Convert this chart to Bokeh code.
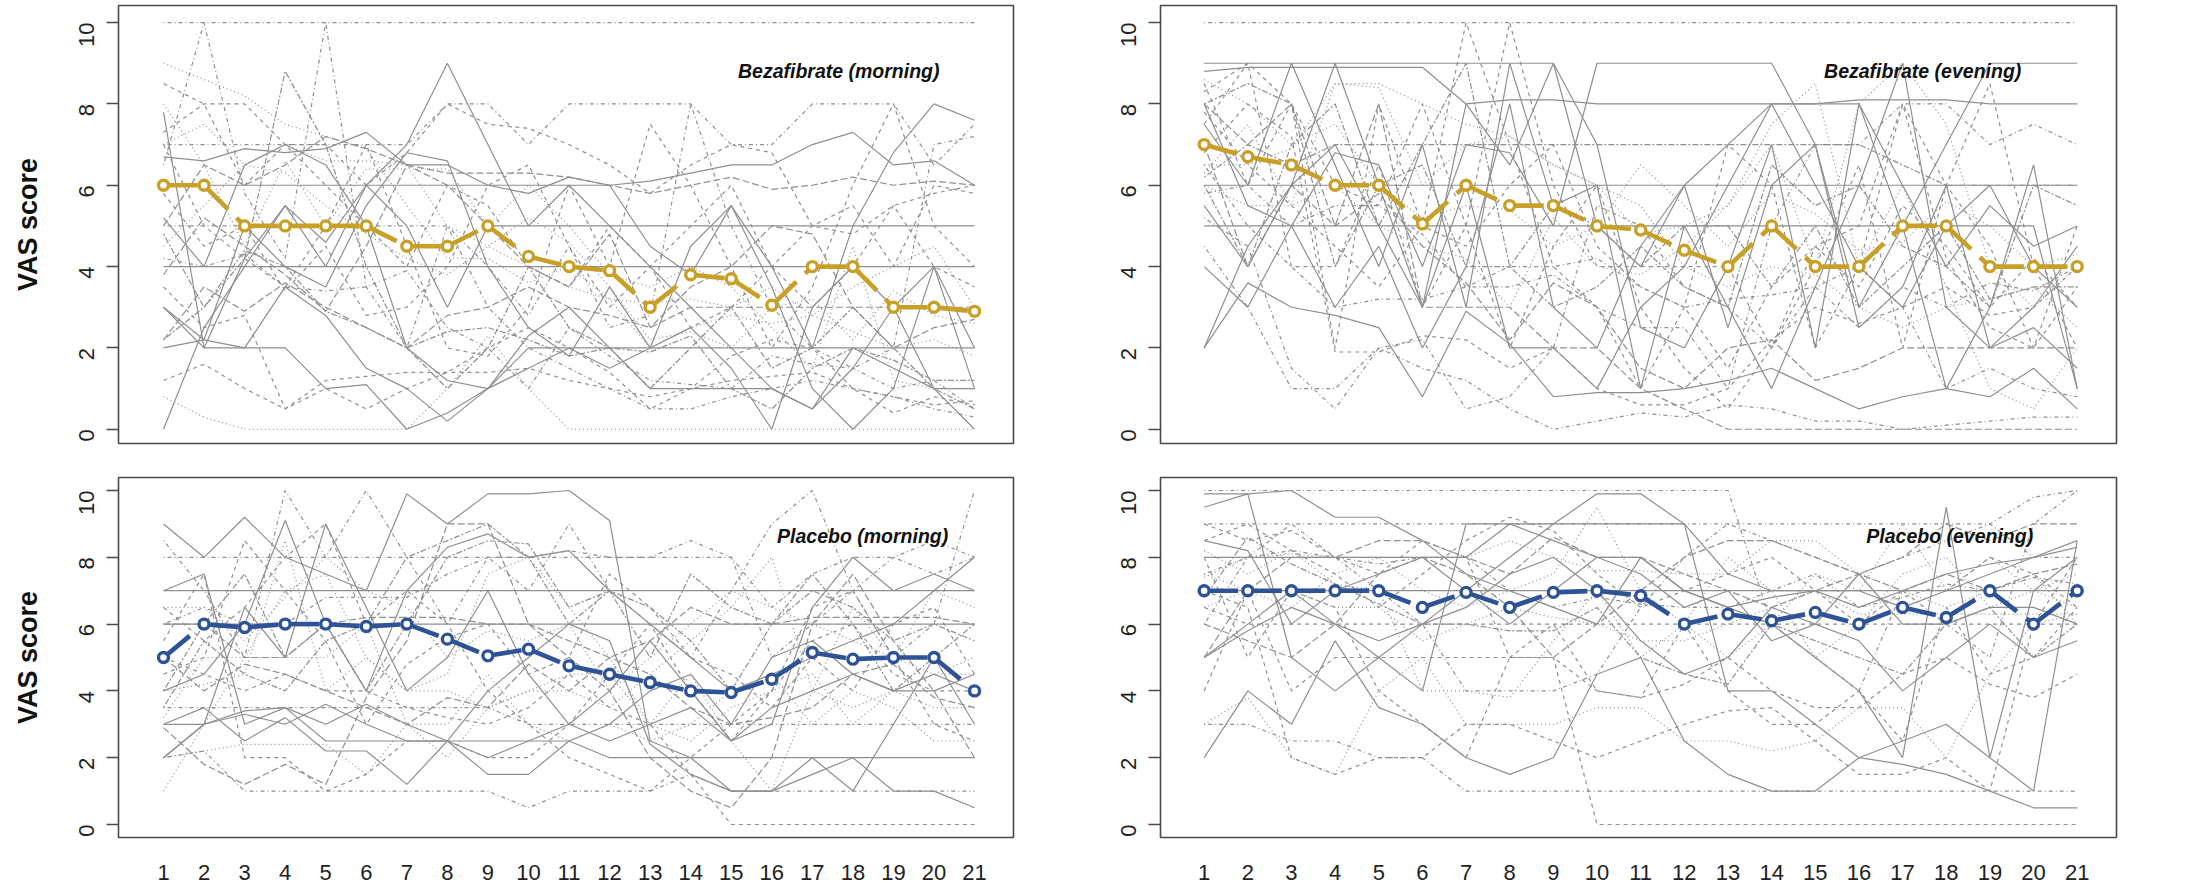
import math
from bokeh.plotting import figure
from bokeh.layouts import column, row
from bokeh.models import Range1d, FixedTicker, Label
from bokeh.embed import file_html
from bokeh.resources import INLINE

# ---------------- data ----------------
days = [1, 2, 3, 4, 5, 6, 7, 8, 9, 10, 11, 12, 13, 14, 15, 16, 17, 18, 19, 20, 21]
y_ticks = [0, 2, 4, 6, 8, 10]

median_bz_morning = [6.0, 6.0, 5.0, 5.0, 5.0, 5.0, 4.5, 4.5, 5.0, 4.25, 4.0, 3.9, 3.0, 3.8, 3.7, 3.05, 4.0, 4.0, 3.0, 3.0, 2.9]
median_bz_evening = [7.0, 6.7, 6.5, 6.0, 6.0, 5.05, 6.0, 5.5, 5.5, 5.0, 4.9, 4.4, 4.0, 5.0, 4.0, 4.0, 5.0, 5.0, 4.0, 4.0, 4.0]
median_pl_morning = [5.0, 6.0, 5.9, 6.0, 6.0, 5.93, 6.0, 5.55, 5.05, 5.25, 4.75, 4.5, 4.25, 4.0, 3.95, 4.35, 5.15, 4.95, 5.0, 5.0, 4.0]
median_pl_evening = [7.0, 7.0, 7.0, 7.0, 7.0, 6.5, 6.95, 6.5, 6.95, 7.0, 6.85, 6.0, 6.3, 6.1, 6.35, 6.0, 6.5, 6.2, 7.0, 6.0, 7.0]

bz_morning_styles = ["dotdash", "solid", "solid", "dashed", "solid", "dotted", "dashed", "dotdash", "solid",
                     "dotted", "longdash", "solid", "dashed", "twodash", "dotted", "solid", "dotdash", "dashed",
                     "solid", "dotted", "dashed", "solid", "longdash", "dotdash", "twodash",
                     "dashed", "dotted", "solid", "dotdash", "longdash"]
bz_morning_patients = [
    [10, 10, 10, 10, 10, 10, 10, 10, 10, 10, 10, 10, 10, 10, 10, 10, 10, 10, 10, 10, 10],
    [4, 4, 4, 4, 4, 4, 4, 4, 4, 4, 4, 4, 4, 4, 4, 4, 4, 4, 4, 4, 4],
    [7.8, 2, 2, 2, 1, 1.1, 0, 0.4, 1, 1.5, 2, 2, 2, 2, 2, 2, 2, 2, 2, 2, 2],
    [1.2, 1.6, 1.0, 0.5, 1.2, 1.3, 1.4, 1.4, 1.4, 1.5, 1.2, 1.0, 0.8, 1.0, 1.2, 1.3, 1.4, 1.0, 0.8, 0.6, 0.7],
    [6.7, 6.6, 6.9, 6.8, 6.9, 7.3, 6.5, 6.5, 6.0, 5.8, 6.2, 6.0, 6.1, 6.3, 6.5, 6.5, 7.0, 7.3, 6.5, 6.6, 6.0],
    [9.0, 8.6, 8.2, 7.5, 7.2, 6.9, 5.5, 4.2, 4.2, 3.6, 4.0, 3.2, 2.0, 2.5, 2.8, 2.6, 2.8, 2.4, 2.0, 2.2, 1.8],
    [8.5, 8.0, 6.0, 7.0, 7.0, 6.0, 6.8, 8.0, 7.5, 7.4, 7.0, 6.5, 5.8, 6.5, 7.0, 6.8, 5.0, 4.8, 5.5, 5.8, 6.0],
    [5, 5, 5, 5, 5, 5, 5, 5, 3.0, 2.0, 1.5, 1.0, 0.5, 0.5, 0.8, 1.0, 1.2, 1.0, 0.8, 0.5, 0.3],
    [3.0, 2.0, 4.2, 5.5, 4.6, 6.0, 5.0, 3.0, 5, 5, 5, 5, 5, 5, 5, 5, 5, 5, 5, 5, 5],
    [0.8, 0.3, 0, 0, 0, 0, 0, 1.0, 2.3, 1.0, 0, 0, 0, 0, 0, 0, 0, 0, 0, 0, 0],
    [2.2, 3.5, 2.9, 3.6, 3.0, 2.5, 2.0, 2.8, 3.0, 3.5, 3.0, 2.8, 2.5, 3.0, 3.0, 3.0, 3.0, 3.0, 3.0, 3.0, 3.0],
    [0, 2.5, 4.0, 5.5, 4.0, 6.0, 7.0, 9.0, 7.0, 5.0, 6.0, 5.0, 4.0, 3.0, 2.0, 1.0, 0.5, 1.5, 3.0, 4.0, 2.0],
    [7.0, 5.0, 4.2, 3.5, 5.0, 7.0, 4.5, 2.0, 1.8, 3.0, 6.0, 4.0, 7.5, 6.0, 4.0, 2.0, 3.5, 6.0, 8.0, 5.0, 4.0],
    [4.8, 3.0, 4.2, 8.8, 7.0, 4.0, 2.0, 1.0, 2.0, 4.0, 2.5, 2.0, 1.0, 2.0, 3.0, 1.5, 2.0, 3.0, 2.0, 1.0, 0.5],
    [8.0, 6.5, 4.5, 6.6, 5.0, 6.4, 6.4, 6.4, 5.0, 6.0, 5.0, 3.8, 3.5, 4.0, 3.5, 2.5, 1.5, 4.5, 1.2, 1.0, 1.0],
    [6, 6, 6, 6, 6, 6, 6, 6, 6, 6, 6, 6, 4.5, 3.8, 5.5, 4.0, 2.0, 5.0, 6.8, 8.0, 7.6],
    [7, 7, 7, 7, 7, 7, 7, 8, 8, 7, 8, 8, 8, 8, 7, 7, 8, 8, 8, 6.5, 7.5],
    [3.5, 2.5, 2.8, 0.5, 1.0, 0.5, 1.0, 1.4, 2.0, 2.5, 2.0, 1.4, 0.5, 1.0, 1.8, 2.2, 2.0, 1.0, 0.4, 0.8, 0.6],
    [5.2, 4.0, 6.5, 7.0, 6.5, 5.0, 2.0, 1.2, 1.0, 2.0, 2.0, 1.5, 2.0, 2.5, 1.5, 0, 3.0, 4.0, 3.0, 1.0, 0.0],
    [4.5, 5.5, 6.5, 6.3, 5.5, 4.8, 4.2, 3.8, 4.5, 4.0, 3.5, 3.2, 3.1, 3.2, 3.0, 3.5, 2.8, 3.5, 4.0, 4.5, 3.0],
    [7.3, 8.0, 8.0, 7.0, 6.0, 5.0, 4.0, 6.0, 5.5, 4.0, 3.5, 5.0, 4.0, 2.5, 3.0, 4.0, 5.0, 5.5, 4.0, 6.0, 5.8],
    [3.0, 2.2, 2.0, 3.5, 2.8, 1.5, 1.0, 0.2, 1.0, 2.3, 3.0, 2.0, 1.0, 1.0, 1.0, 1.0, 0.5, 2.0, 1.5, 1.0, 1.0],
    [5.0, 6.5, 6.0, 6.5, 7.2, 6.9, 6.5, 6.3, 6.3, 6.3, 6.2, 6.0, 5.8, 6.0, 6.2, 5.9, 6.0, 6.2, 6.0, 6.1, 6.0],
    [6.5, 10, 5.8, 4.2, 10, 3.5, 2.0, 5.0, 4.0, 2.8, 4.5, 2.5, 2.8, 8.0, 5.0, 3.0, 2.0, 1.5, 2.0, 7.0, 7.2],
    [2.2, 3.0, 4.4, 4.0, 2.9, 2.5, 2.0, 2.4, 2.5, 2.2, 1.8, 2.0, 1.9, 2.3, 1.0, 0.5, 1.5, 2.0, 1.7, 1.2, 1.2],
    [5.8, 4.5, 5.0, 3.4, 4.5, 2.8, 3.0, 4.0, 6.0, 6.5, 4.5, 3.0, 4.0, 5.0, 6.0, 4.0, 3.0, 4.0, 5.5, 4.0, 3.5],
    [7.0, 7.5, 6.5, 7.0, 6.6, 6.6, 6.5, 5.0, 4.5, 5.2, 4.6, 3.5, 2.2, 2.4, 2.0, 3.0, 3.2, 2.2, 3.4, 2.8, 2.6],
    [2.0, 2.2, 5.0, 4.0, 3.5, 5.5, 6.8, 6.6, 4.0, 2.5, 1.8, 3.5, 2.0, 4.5, 5.5, 3.5, 1.0, 0.0, 1.0, 4.0, 1.0],
    [4.2, 4.0, 4.3, 3.5, 3.4, 3.5, 3.9, 2.5, 2.0, 1.0, 2.5, 1.8, 1.2, 1.1, 1.0, 1.8, 1.6, 1.5, 1.0, 1.2, 0.5],
    [3.8, 5.2, 4.5, 3.8, 2.9, 4.5, 6.5, 6.0, 5.0, 4.0, 3.5, 4.8, 2.5, 3.5, 4.0, 5.0, 4.8, 3.0, 2.0, 2.5, 2.7],
]

bz_evening_styles = ["dotdash", "solid", "solid", "solid", "solid", "solid", "dashed", "dotted", "longdash",
                     "dotdash", "twodash", "solid", "dashed", "dotted", "solid", "dashed", "dotdash", "longdash",
                     "solid", "twodash", "dotted", "dashed", "solid", "dotdash",
                     "dashed", "dotted", "solid", "twodash", "dotdash"]
bz_evening_patients = [
    [10, 10, 10, 10, 10, 10, 10, 10, 10, 10, 10, 10, 10, 10, 10, 10, 10, 10, 10, 10, 10],
    [9, 9, 9, 9, 9, 9, 9, 9, 9, 5, 4, 6, 7, 8, 6, 4, 3, 5, 6, 4, 3],
    [8.8, 8.9, 8.9, 8.9, 8.9, 8.9, 8.0, 8.1, 8.1, 8, 8, 8, 8, 8, 8, 8.1, 8.1, 8.1, 8, 8, 8],
    [6, 6, 6, 6, 6, 6, 6, 6, 6, 6, 6, 6, 6, 6, 6, 6, 6, 6, 6, 6, 6],
    [5, 5, 5, 5, 5, 5, 5, 5, 5, 5, 5, 5, 5, 5, 5, 5, 5, 5, 5, 5, 1.0],
    [2.0, 3.6, 3.0, 2.8, 2.5, 0.8, 2.9, 2.1, 0.8, 0.9, 0.9, 1.0, 1.2, 1.5, 1.0, 0.5, 0.8, 1.0, 0.8, 1.5, 0.5],
    [8.5, 6.0, 8.0, 2.0, 8.0, 5.0, 10, 7.0, 4.0, 3.0, 1.0, 3.0, 7.0, 6.0, 2.0, 4.0, 8.0, 6.0, 4.5, 2.0, 5.0],
    [6.5, 6.5, 6.9, 8.5, 8.5, 8.0, 7.5, 7.2, 6.5, 6.0, 5.5, 4.0, 3.5, 4.0, 3.8, 3.0, 2.5, 3.0, 3.2, 3.5, 2.5],
    [8.0, 7.0, 8.0, 5.0, 8.0, 3.0, 3.0, 3.0, 2.0, 2.0, 1.0, 0.5, 0, 0, 0, 0, 0, 0, 0, 0, 0],
    [6.5, 5.0, 4.0, 3.0, 3.2, 3.2, 3.5, 3.5, 3.8, 3.0, 2.5, 2.5, 1.0, 5.0, 7.0, 7.0, 8.0, 8.0, 7.0, 7.5, 7.0],
    [6.2, 7.0, 6.5, 7.0, 7.0, 7.0, 7.0, 7.0, 7.0, 7.0, 7.0, 7.0, 7.0, 7.0, 7.0, 7.0, 6.5, 6.0, 6.0, 6.0, 6.0],
    [8.0, 5.5, 5.0, 6.8, 6.5, 4.0, 7.0, 6.8, 5.0, 9.0, 9.0, 9.0, 9.0, 9.0, 7.0, 3.0, 5.0, 7.0, 9.0, 9.0, 9.0],
    [7.5, 9.0, 8.0, 6.0, 5.5, 8.0, 5.0, 2.0, 4.5, 6.0, 3.0, 1.5, 0.5, 2.0, 4.0, 6.5, 2.0, 6.0, 8.5, 4.0, 2.0],
    [6.0, 5.5, 5.5, 8.5, 8.4, 6.0, 7.0, 7.2, 6.5, 6.0, 4.8, 5.0, 5.5, 7.0, 4.0, 8.0, 9.0, 7.5, 4.0, 3.0, 4.0],
    [5.5, 4.0, 6.0, 9.0, 6.0, 3.0, 8.0, 6.5, 9.0, 7.0, 2.5, 2.0, 4.0, 7.0, 2.0, 8.0, 5.0, 1.0, 3.0, 6.5, 1.0],
    [8.3, 9.0, 4.0, 4.0, 6.5, 3.0, 5.0, 10, 6.0, 4.0, 4.0, 4.0, 4.0, 2.0, 4.5, 5.0, 8.0, 4.2, 2.5, 2.0, 3.5],
    [5.2, 4.5, 1.5, 0.5, 2.0, 2.2, 0.5, 0.8, 2.0, 5.5, 5.0, 3.5, 3.0, 2.0, 3.5, 4.0, 3.0, 1.0, 1.5, 1.0, 0.8],
    [7.0, 4.0, 6.0, 5.0, 5.8, 4.5, 3.6, 2.2, 3.6, 3.0, 1.5, 1.0, 2.0, 2.2, 1.2, 1.5, 2.0, 2.0, 2.0, 2.0, 2.0],
    [2.0, 4.5, 6.0, 7.0, 5.0, 3.0, 6.0, 2.0, 2.0, 1.0, 3.0, 4.0, 6.0, 8.0, 8.0, 8.0, 6.0, 4.0, 5.5, 4.5, 5.0],
    [8.0, 8.5, 8.0, 4.0, 6.0, 6.5, 4.0, 4.0, 5.5, 5.0, 4.0, 5.0, 5.0, 3.5, 5.0, 3.0, 4.0, 5.0, 3.2, 3.5, 3.5],
    [6.3, 7.5, 5.5, 6.0, 5.0, 4.5, 4.2, 3.0, 5.2, 4.0, 3.8, 4.5, 5.5, 7.5, 8.5, 4.0, 6.0, 3.5, 1.0, 0.5, 2.0],
    [6.8, 8.0, 7.2, 1.9, 1.9, 2.3, 2.2, 1.5, 2.0, 1.0, 0.6, 0.6, 1.0, 2.2, 3.0, 2.6, 3.0, 3.5, 2.8, 3.0, 4.0],
    [7.5, 6.0, 9.0, 6.5, 4.0, 7.0, 3.0, 9.0, 5.5, 6.0, 1.0, 5.0, 3.0, 1.0, 3.5, 6.0, 9.0, 3.0, 2.0, 3.0, 4.5],
    [4.5, 3.0, 1.0, 1.0, 2.0, 1.5, 1.2, 0.5, 0.0, 0.2, 0.4, 0.3, 0.6, 0.5, 0.2, 0.2, 0.0, 0.1, 0.2, 0.3, 0.3],
    [7.8, 6.5, 5.5, 4.5, 3.5, 5.0, 4.5, 6.0, 7.0, 4.5, 3.5, 3.0, 1.5, 3.5, 4.5, 3.5, 5.5, 4.5, 3.0, 4.2, 3.0],
    [8.6, 8.0, 7.0, 7.5, 6.0, 5.2, 5.5, 5.4, 4.5, 5.0, 6.5, 5.5, 4.5, 5.8, 5.3, 4.4, 4.6, 5.6, 5.0, 4.0, 4.3],
    [4.0, 3.0, 5.0, 3.0, 4.5, 2.0, 4.0, 8.0, 3.0, 2.0, 4.5, 6.0, 2.5, 6.0, 7.0, 2.5, 3.5, 6.0, 2.0, 2.5, 1.5],
    [6.0, 4.0, 7.0, 8.0, 5.0, 7.0, 9.0, 4.0, 3.0, 3.5, 4.5, 3.5, 3.0, 6.5, 5.5, 6.0, 4.5, 4.0, 3.0, 6.0, 5.5],
    [5.8, 6.0, 5.0, 5.5, 5.5, 4.8, 3.5, 4.0, 4.0, 4.2, 3.5, 3.0, 3.2, 3.3, 3.5, 2.5, 3.5, 3.0, 3.6, 3.4, 4.0],
]

pl_morning_styles = ["dotdash", "solid", "solid", "solid", "dotdash", "solid", "dotdash", "solid", "solid",
                     "dashed", "dotted", "longdash", "dotted", "dashed", "solid", "twodash", "dotted", "solid",
                     "dotdash", "dashed", "dotdash", "longdash", "dotted",
                     "dashed", "dotted", "solid", "longdash", "twodash"]
pl_morning_patients = [
    [8, 8, 8, 8, 8, 8, 8, 8, 8, 8, 8, 8, 8, 8, 8, 6.5, 7.5, 8, 8, 7.5, 8],
    [7, 7, 7, 7, 7, 7, 7, 7, 7, 7, 7, 7, 7, 7, 7, 7, 7, 7, 7, 7, 7],
    [6, 6, 6, 6, 6, 6, 6, 6, 6, 6, 6, 6, 6, 6, 6, 6, 6, 6, 6, 6, 6],
    [3, 3, 3.3, 3.0, 3.6, 3.0, 2.5, 2.5, 2.0, 2.5, 3.0, 2.5, 3.0, 3.5, 2.5, 3.5, 4.0, 4.5, 4.0, 4.5, 4.0],
    [3.5, 3.5, 3.5, 3.5, 3.5, 3.5, 3.5, 3.5, 3.5, 3.0, 3.0, 3.0, 3.0, 3.0, 3.0, 3.0, 3.0, 3.0, 3.0, 3.0, 3.0],
    [2.0, 3.0, 3.4, 3.5, 2.5, 2.5, 2.5, 2.5, 2.5, 2.5, 2.5, 2.0, 2.0, 2.0, 2.0, 2.0, 2.0, 2.0, 2.0, 2.0, 2.0],
    [2.0, 2.2, 1.0, 1.0, 1.0, 1.0, 1.0, 1.0, 1.0, 0.5, 1.0, 1.0, 1.0, 1.5, 1.0, 1.0, 1.0, 1.0, 1.0, 1.0, 1.0],
    [9.0, 8.0, 9.2, 8.0, 7.5, 7.0, 9.9, 9.0, 9.9, 9.9, 10, 9.1, 2.5, 2.0, 1.0, 1.0, 1.5, 2.0, 1.0, 1.0, 0.5],
    [7.0, 7.5, 3.0, 3.5, 3.0, 3.6, 3.0, 2.5, 1.5, 1.5, 2.5, 3.0, 4.0, 4.5, 3.0, 5.0, 5.5, 4.5, 4.0, 4.0, 4.5],
    [5.5, 7.5, 2.0, 2.0, 1.0, 1.5, 2.5, 2.5, 2.0, 2.0, 3.0, 4.5, 6.0, 4.0, 2.5, 4.0, 5.5, 6.0, 4.5, 4.0, 4.0],
    [4.0, 4.2, 4.5, 8.5, 4.0, 5.0, 4.0, 4.0, 3.5, 4.0, 4.5, 4.5, 3.0, 2.5, 3.5, 4.0, 4.5, 3.0, 4.0, 4.5, 4.5],
    [6.0, 6.0, 5.0, 5.0, 6.0, 6.2, 6.2, 6.2, 6.0, 6.0, 5.5, 5.0, 5.5, 6.5, 6.0, 6.0, 6.2, 6.2, 6.2, 6.2, 6.0],
    [1.0, 3.0, 5.0, 7.0, 7.5, 5.0, 4.0, 4.5, 7.5, 8.0, 6.5, 5.0, 3.0, 4.5, 2.5, 1.0, 4.0, 6.5, 5.0, 7.0, 6.5],
    [6.5, 5.5, 6.5, 8.0, 9.0, 6.0, 7.0, 6.0, 4.0, 3.0, 2.0, 1.5, 1.0, 2.0, 3.0, 4.0, 6.5, 7.0, 5.0, 3.0, 2.5],
    [4.0, 4.5, 6.0, 9.1, 6.0, 4.0, 7.0, 8.3, 8.7, 8.0, 8.2, 7.0, 6.0, 5.0, 4.0, 4.5, 5.0, 5.5, 6.0, 7.0, 8.0],
    [4.0, 6.0, 7.5, 5.0, 6.0, 4.0, 6.0, 8.0, 8.5, 8.4, 6.5, 7.0, 5.0, 7.5, 6.5, 6.0, 7.0, 6.5, 5.5, 6.0, 5.5],
    [2.0, 2.2, 2.4, 2.4, 2.4, 1.5, 3.0, 3.0, 4.5, 3.0, 2.5, 3.0, 2.5, 3.0, 4.0, 4.5, 3.0, 4.0, 3.5, 2.5, 2.5],
    [3.0, 3.5, 2.5, 3.2, 2.2, 2.2, 1.2, 2.5, 4.0, 5.0, 6.0, 5.5, 2.4, 1.5, 1.0, 1.0, 2.0, 1.0, 3.0, 5.0, 3.0],
    [6.0, 6.5, 6.0, 6.0, 6.8, 6.8, 6.8, 7.5, 8.0, 8.0, 8.2, 8.0, 8.0, 8.5, 8.0, 5.0, 6.0, 7.0, 8.0, 8.5, 8.0],
    [5.0, 4.5, 4.0, 4.5, 4.0, 4.0, 3.5, 3.2, 3.0, 3.5, 4.5, 3.5, 3.0, 1.5, 0, 0, 0, 0, 0, 0, 0],
    [8.5, 7.0, 5.0, 10, 8.0, 10, 8.0, 6.0, 8.0, 7.0, 9.0, 7.0, 6.0, 5.0, 7.0, 9.0, 10, 7.0, 5.0, 6.0, 10],
    [2.9, 1.8, 1.2, 1.8, 1.2, 3.8, 5.5, 9.0, 9.0, 6.0, 5.0, 4.0, 2.0, 1.0, 0.5, 2.0, 6.0, 7.5, 5.5, 4.0, 2.0],
    [3.2, 5.0, 5.0, 5.0, 5.0, 6.0, 3.0, 2.0, 3.5, 4.0, 4.0, 3.5, 4.5, 5.5, 6.5, 8.0, 4.0, 3.5, 4.0, 3.5, 3.5],
    [4.5, 5.0, 8.5, 7.0, 5.5, 3.0, 4.8, 5.6, 6.0, 4.5, 5.0, 7.5, 6.5, 5.0, 4.5, 3.5, 5.0, 4.0, 6.0, 6.5, 4.5],
    [6.5, 6.5, 5.5, 6.8, 8.0, 7.0, 6.5, 5.0, 5.8, 5.5, 6.0, 4.0, 5.0, 6.0, 7.0, 6.5, 6.0, 5.5, 5.0, 4.5, 5.0],
    [2.0, 3.0, 6.5, 5.0, 9.0, 6.5, 4.0, 5.0, 7.0, 4.5, 3.0, 4.0, 5.5, 4.0, 2.5, 3.0, 6.5, 8.0, 7.0, 7.5, 7.0],
    [5.0, 4.0, 4.8, 4.5, 4.0, 3.5, 3.0, 3.8, 3.5, 4.8, 4.0, 5.0, 4.5, 3.5, 3.0, 3.2, 3.5, 4.5, 4.8, 3.8, 3.5],
    [3.5, 5.5, 4.5, 4.0, 5.5, 6.0, 8.0, 8.5, 9.0, 8.0, 6.0, 7.0, 6.5, 5.5, 4.0, 6.0, 7.5, 6.0, 4.0, 5.0, 6.0],
]

pl_evening_styles = ["solid", "dotdash", "dotdash", "solid", "solid", "dashed", "dashed", "dotdash", "dashed",
                     "solid", "solid", "dotted", "dashed", "longdash", "dotted", "solid", "twodash", "dotted",
                     "dashed", "dotdash", "solid", "dotted",
                     "dashed", "dotted", "solid", "longdash", "dotdash"]
pl_evening_patients = [
    [9.9, 9.9, 5.0, 4.0, 5.0, 6.0, 7.0, 8.0, 9.0, 9.9, 9.9, 9.0, 4.0, 4.0, 3.0, 2.0, 1.8, 1.5, 1.0, 0.5, 0.5],
    [10, 10, 10, 10, 10, 10, 10, 10, 10, 10, 10, 10, 10, 6.0, 5.0, 4.0, 7.0, 6.0, 5.0, 9.0, 10],
    [9, 9, 9, 9, 9, 9, 9, 9, 9, 9, 9, 9, 9, 9, 9, 9, 9, 9, 9, 8, 8],
    [8, 8, 8, 8, 8, 8, 8, 9, 9, 9, 9, 9, 7.5, 7.0, 7.0, 6.5, 7.0, 7.5, 7.8, 8.0, 8.3],
    [7, 7, 7, 7, 7, 7, 7, 7, 7, 7, 7, 7, 7, 7, 7, 7, 7, 7, 7, 7, 7],
    [6.5, 6, 6, 6, 6, 6, 6, 6, 6, 6, 6, 6, 6, 6, 6, 6, 6, 6, 6, 6, 6],
    [4.0, 7.0, 4.0, 5.0, 5.0, 5.0, 5.0, 5.0, 5.0, 4.0, 3.8, 4.2, 5.0, 4.0, 3.5, 3.5, 4.5, 5.0, 4.2, 3.8, 4.5],
    [3, 3, 2.5, 2.5, 2.0, 2.0, 1, 1, 1, 1, 1, 1, 1, 1, 1, 1, 1, 1, 1, 1, 1],
    [8.0, 5.0, 7.0, 6.5, 4.0, 3.0, 2.0, 5.0, 5.0, 0, 0, 0, 0, 0, 0, 0, 0, 0, 0, 0, 0],
    [2.0, 4.0, 3.0, 5.5, 3.5, 3.0, 2.0, 1.5, 2.0, 4.5, 5.0, 2.5, 1.5, 1.0, 1.0, 2.0, 2.5, 3.0, 2.0, 1.0, 8.5],
    [5.0, 5.8, 6.5, 6.0, 5.0, 4.0, 9.0, 9.0, 8.5, 8.0, 8.0, 7.0, 6.5, 6.0, 5.0, 4.0, 2.0, 9.5, 2.0, 7.0, 8.0],
    [8.2, 7.5, 8.2, 7.2, 7.0, 4.0, 4.0, 3.8, 5.5, 7.0, 5.0, 6.0, 8.0, 7.0, 5.0, 6.0, 7.5, 8.0, 6.5, 7.0, 6.5],
    [9.0, 8.5, 8.8, 8.0, 7.5, 8.5, 8.0, 5.0, 6.0, 4.0, 3.8, 6.0, 4.0, 3.0, 3.0, 4.0, 2.5, 6.5, 4.5, 5.0, 6.5],
    [5.0, 7.0, 8.0, 8.0, 8.5, 8.5, 8.0, 7.5, 8.6, 8.0, 8.0, 7.5, 7.0, 6.5, 7.0, 7.5, 7.0, 7.5, 7.0, 7.5, 7.8],
    [7.4, 8.0, 8.1, 8.0, 8.0, 8.0, 8.0, 8.5, 8.0, 7.6, 7.6, 7.5, 7.5, 8.5, 8.5, 7.5, 7.0, 6.5, 7.0, 7.5, 6.0],
    [9.5, 9.9, 10, 9.2, 9.2, 8.5, 7.5, 7.0, 6.5, 6.0, 8.0, 7.0, 6.5, 6.8, 7.0, 7.0, 6.5, 7.0, 7.5, 8.0, 8.5],
    [6.8, 8.6, 7.8, 7.2, 6.6, 6.0, 6.0, 5.8, 5.8, 6.5, 5.0, 4.5, 4.2, 6.0, 5.5, 5.0, 4.5, 6.0, 6.5, 5.0, 6.0],
    [3.0, 3.8, 2.0, 1.5, 4.0, 5.0, 3.0, 3.0, 3.0, 3.5, 3.5, 2.5, 2.5, 2.2, 2.5, 3.5, 3.5, 2.0, 4.5, 6.0, 6.3],
    [7.0, 6.5, 2.0, 1.5, 2.0, 2.0, 3.0, 3.0, 2.5, 2.0, 2.5, 3.0, 3.4, 3.5, 2.5, 1.5, 1.5, 2.0, 1.0, 6.0, 8.0],
    [6.0, 8.0, 9.0, 8.0, 7.0, 6.0, 4.0, 4.0, 4.0, 4.5, 6.5, 8.0, 9.0, 8.5, 8.0, 7.5, 8.0, 8.5, 9.0, 9.8, 10],
    [8.5, 8.2, 6.0, 7.0, 7.5, 8.0, 7.0, 6.0, 7.0, 8.0, 7.5, 6.5, 7.0, 5.5, 6.0, 7.5, 6.0, 6.0, 6.5, 6.5, 6.0],
    [6.5, 7.0, 7.0, 6.5, 6.5, 5.5, 6.0, 6.5, 6.2, 6.0, 5.5, 5.5, 6.0, 6.5, 7.0, 6.3, 6.3, 6.3, 6.3, 6.3, 6.3],
    [8.5, 9.0, 8.2, 7.5, 6.5, 7.5, 8.5, 9.2, 8.8, 7.5, 6.5, 7.0, 7.5, 8.0, 7.0, 6.0, 7.0, 7.0, 8.0, 7.5, 6.5],
    [7.5, 7.0, 6.5, 7.5, 8.0, 7.0, 6.5, 7.0, 7.5, 9.5, 7.0, 6.0, 5.0, 6.0, 7.5, 7.0, 9.0, 7.0, 8.0, 7.0, 7.5],
    [5.0, 6.0, 7.0, 6.0, 5.5, 6.0, 6.5, 7.5, 8.0, 7.0, 5.5, 4.5, 5.0, 6.5, 6.0, 5.5, 4.0, 5.0, 6.0, 5.0, 5.5],
    [6.0, 5.5, 5.0, 6.0, 7.5, 8.0, 7.5, 6.5, 5.0, 6.0, 7.0, 8.0, 8.5, 8.5, 8.0, 7.5, 8.0, 9.0, 8.5, 9.0, 9.0],
    [7.5, 8.0, 8.2, 8.0, 7.8, 8.0, 8.0, 7.0, 6.5, 6.8, 6.6, 6.5, 6.5, 7.0, 7.5, 6.5, 6.8, 7.2, 7.0, 7.4, 7.2],
]

panel_titles = ["Bezafibrate (morning)", "Bezafibrate (evening)", "Placebo (morning)", "Placebo (evening)"]
y_axis_title = "VAS score"

# ---------------- styling ----------------
FONT = "Liberation Sans"
GREY = "#8f8f8f"
FRAME = "#4a4a4a"
GOLD = "#C9A027"
BLUE = "#2D5396"
DASHES = {"solid": "solid", "dashed": "4 4", "dotted": "1 3", "dotdash": "1 3 4 3",
          "longdash": "7 3", "twodash": "2 2 6 2"}


def make_panel(frame_w, frame_h, xr, yr, b_left, b_right, b_top, b_bottom,
               patients, styles, median, color, title, tx, ty, show_x, ylabel):
    p = figure(width=b_left + frame_w + b_right, height=b_top + frame_h + b_bottom,
               x_range=Range1d(*xr), y_range=Range1d(*yr), title=None,
               min_border_left=b_left, min_border_right=b_right,
               min_border_top=b_top, min_border_bottom=b_bottom,
               output_backend="svg", toolbar_location=None)
    p.xgrid.visible = False
    p.ygrid.visible = False
    p.background_fill_color = "white"
    p.border_fill_color = "white"
    p.outline_line_color = FRAME
    p.outline_line_width = 1.6

    yax = p.yaxis[0]
    yax.ticker = FixedTicker(ticks=y_ticks)
    yax.axis_line_color = None
    yax.major_tick_line_color = FRAME
    yax.major_tick_line_width = 1.6
    yax.major_tick_out = 12
    yax.major_tick_in = 0
    yax.minor_tick_line_color = None
    yax.major_label_orientation = math.pi / 2
    yax.major_label_text_font = FONT
    yax.major_label_text_font_size = "22px"
    yax.major_label_text_color = "#222222"
    yax.major_label_standoff = 20
    if ylabel:
        yax.axis_label = ylabel
        yax.axis_label_text_font = FONT
        yax.axis_label_text_font_size = "27px"
        yax.axis_label_text_font_style = "bold"
        yax.axis_label_text_color = "#111111"
        yax.axis_label_standoff = 26

    xax = p.xaxis[0]
    if show_x:
        xax.ticker = FixedTicker(ticks=days)
        xax.axis_line_color = None
        xax.major_tick_line_color = None
        xax.minor_tick_line_color = None
        xax.major_tick_out = 0
        xax.major_tick_in = 0
        xax.major_label_text_font = FONT
        xax.major_label_text_font_size = "22px"
        xax.major_label_text_color = "#222222"
        xax.major_label_standoff = 27
    else:
        xax.visible = False

    for vals, st in zip(patients, styles):
        p.line(days, vals, line_color=GREY, line_width=1.2, line_dash=DASHES[st])

    p.segment(x0=days[:-1], y0=median[:-1], x1=days[1:], y1=median[1:],
              line_color=color, line_width=4.6, line_dash="28 12", line_dash_offset=34)
    p.scatter(days, median, marker="circle", size=10, fill_color="white",
              line_color=color, line_width=3.4)

    p.add_layout(Label(x=tx, y=ty, text=title, text_font=FONT, text_font_size="19.5px",
                       text_font_style="bold italic", text_color="#111111",
                       text_align="center", text_baseline="middle"))
    return p


XR_LEFT = (-0.11, 21.96)
XR_RIGHT = (0.0, 21.9)
YR_TOP = (-0.35, 10.42)
YR_BOT = (-0.39, 10.39)

p1 = make_panel(895, 438, XR_LEFT, YR_TOP, 118, 37, 5, 17, bz_morning_patients, bz_morning_styles,
                median_bz_morning, GOLD, panel_titles[0], 17.65, 8.8, False, y_axis_title)
p2 = make_panel(956, 438, XR_RIGHT, YR_TOP, 110, 6, 5, 17, bz_evening_patients, bz_evening_styles,
                median_bz_evening, GOLD, panel_titles[1], 17.46, 8.8, False, None)
p3 = make_panel(895, 360, XR_LEFT, YR_BOT, 118, 37, 17, 52, pl_morning_patients, pl_morning_styles,
                median_pl_morning, BLUE, panel_titles[2], 18.24, 8.65, True, y_axis_title)
p4 = make_panel(956, 360, XR_RIGHT, YR_BOT, 110, 6, 17, 52, pl_evening_patients, pl_evening_styles,
                median_pl_evening, BLUE, panel_titles[3], 18.08, 8.65, True, None)

layout = column(row(p1, p2), row(p3, p4))

open("out.html", "w").write(file_html(layout, INLINE))
